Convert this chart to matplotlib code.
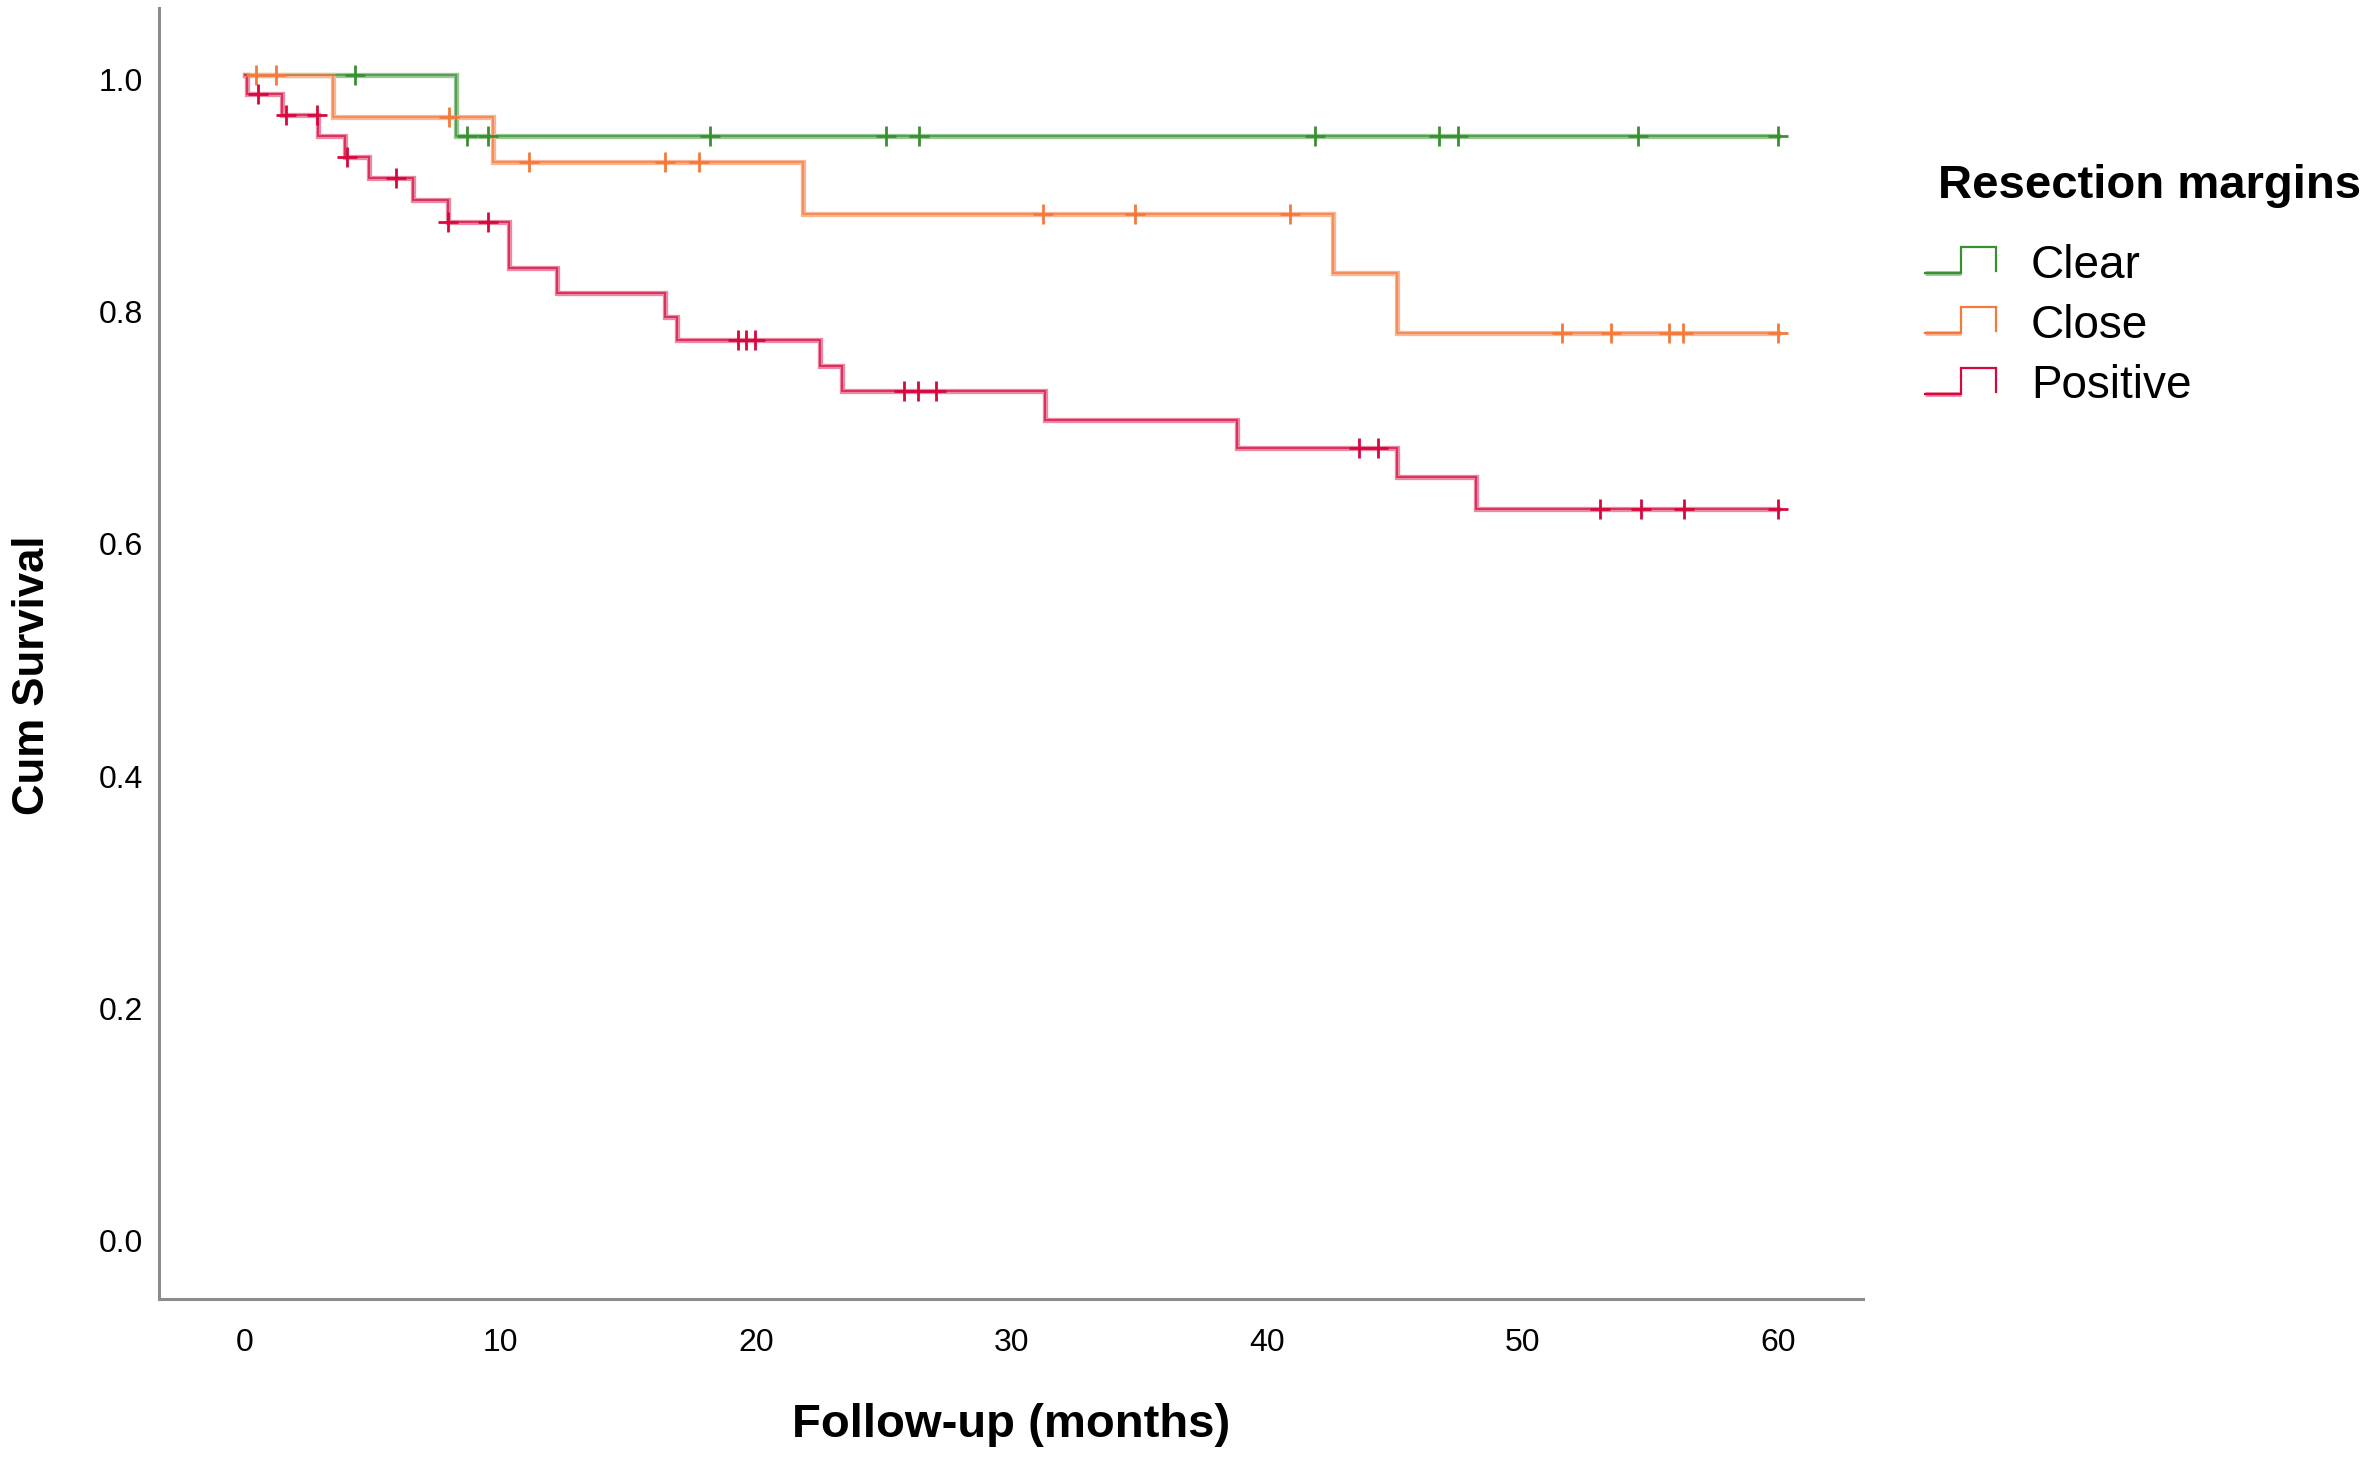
import numpy as np
import matplotlib
matplotlib.use("Agg")
import matplotlib.pyplot as plt
from matplotlib.lines import Line2D
from matplotlib.legend_handler import HandlerBase
import matplotlib.transforms as mtransforms

plt.rcParams['font.family'] = ['Liberation Sans', 'DejaVu Sans']

# ---------------- datos ----------------
grupos = ['Clear', 'Close', 'Positive']

# Clear
clear_t = [0, 8.26, 60]
clear_s = [1.0, 0.947, 0.947]
clear_cens = [4.30, 8.70, 9.52, 18.2, 25.08, 26.39, 41.87, 46.72, 47.48, 54.52, 60.0]

# Close
close_t = [0, 3.43, 9.72, 21.84, 42.56, 45.07, 60]
close_s = [1.0, 0.963, 0.925, 0.880, 0.829, 0.777, 0.777]
close_cens = [0.43, 1.20, 7.99, 11.11, 16.42, 17.78, 31.24, 34.83, 40.87,
              51.54, 53.45, 55.70, 56.28, 60.0]

# Positive
pos_t = [0, 0.08, 1.43, 2.84, 3.91, 4.87, 6.59, 7.96, 10.34, 12.19, 16.44,
         16.92, 22.50, 23.37, 31.30, 38.83, 45.07, 48.18, 60]
pos_s = [1.0, 0.983, 0.965, 0.947, 0.929, 0.911, 0.892, 0.873, 0.833, 0.812,
         0.791, 0.771, 0.749, 0.727, 0.702, 0.678, 0.653, 0.626, 0.626]
pos_cens = [0.50, 1.60, 2.80, 4.00, 5.91, 7.96, 9.52, 19.30, 19.61, 19.94,
            25.80, 26.35, 27.04, 43.57, 44.35, 53.02, 54.63, 56.32, 60.0]

x_ticks = [0, 10, 20, 30, 40, 50, 60]
y_ticks = [0.0, 0.2, 0.4, 0.6, 0.8, 1.0]

# colores (linea fina, halo claro)
colores = ['#3a8f33', '#f47a3c', '#d6083e']
halos = ['#96c692', '#f9b595', '#e88aa3']

curvas = [(clear_t, clear_s, clear_cens),
          (close_t, close_s, close_cens),
          (pos_t, pos_s, pos_cens)]


class PulsoHandler(HandlerBase):  # icono de escalon de SPSS
    def create_artists(self, legend, orig_handle, xdescent, ydescent,
                       width, height, fontsize, trans):
        x0, x1 = -xdescent, -xdescent + width
        xm = (x0 + x1) / 2
        y0 = -ydescent + height * 0.05
        y1 = -ydescent + height * 1.05
        halo = Line2D([x0, xm], [y0, y0], color=orig_handle._halo, lw=3.4,
                      solid_capstyle='butt')
        linea = Line2D([x0, xm, xm, x1, x1], [y0, y0, y1, y1, y0 + height * 0.08],
                       color=orig_handle.get_color(), lw=1.6,
                       solid_joinstyle='miter')
        for a in (halo, linea):
            a.set_transform(trans)
        return [halo, linea]


fig = plt.figure(figsize=(23.74, 14.60), dpi=100)
ax = fig.add_axes([159 / 2374, 1 - 1299 / 1460, 1704 / 2374, 1291 / 1460])

handles = []
for (t, s, cens), c, h, nombre in zip(curvas, colores, halos, grupos):
    t = np.array(t)
    s = np.array(s)
    ax.step(t, s, where='post', color=h, lw=3.8, zorder=2,
            solid_joinstyle='miter')
    ax.step(t, s, where='post', color=c, lw=1.3, alpha=0.75, zorder=3,
            solid_joinstyle='miter')
    idx = np.searchsorted(t, cens, side='right') - 1
    ax.plot(cens, s[idx], linestyle='none', marker='+', markersize=14,
            markeredgewidth=2.0, color=c, zorder=4)
    hd = Line2D([], [], color=c)
    hd._halo = h
    handles.append(hd)

ax.set_xlim(-3.365, 63.31)
ax.set_ylim(-0.0547, 1.0573)
ax.set_xticks(x_ticks)
ax.set_yticks(y_ticks)
ax.set_xticklabels([str(v) for v in x_ticks])
ax.set_yticklabels(['%.1f' % v for v in y_ticks])
ax.tick_params(axis='both', length=0, labelsize=23, colors='black')
ax.tick_params(axis='y', pad=11.5)
ax.tick_params(axis='x', pad=21)

desplaza = mtransforms.ScaledTranslation(0, -5 / 100, fig.dpi_scale_trans)
for lab in ax.get_yticklabels():
    lab.set_transform(lab.get_transform() + desplaza)

for lado in ['top', 'right']:
    ax.spines[lado].set_visible(False)
for lado in ['left', 'bottom']:
    ax.spines[lado].set_color('#8c8c8c')
    ax.spines[lado].set_linewidth(2.2)

ax.set_xlabel('Follow-up (months)', fontsize=34, fontweight='bold', va='center')
ax.xaxis.set_label_coords(0.5, (1299 - 1425) / 1291)
ax.set_ylabel('Cum Survival', fontsize=31.5, fontweight='bold', va='center')
ax.yaxis.set_label_coords((32 - 159) / 1704, (1299 - 675.5) / 1291)

# leyenda
fig.text(1938 / 2374, 1 - 198.3 / 1460, 'Resection margins', fontsize=34,
         fontweight='bold', ha='left', va='baseline')
fig.legend(handles, grupos, handler_map={Line2D: PulsoHandler()},
           loc='center left', bbox_to_anchor=(1925 / 2374, 1 - 326 / 1460),
           frameon=False, fontsize=33, borderpad=0, borderaxespad=0,
           handlelength=1.55, handletextpad=0.76, labelspacing=0.36,
           handleheight=0.5)

fig.savefig('out.png', dpi=100)
